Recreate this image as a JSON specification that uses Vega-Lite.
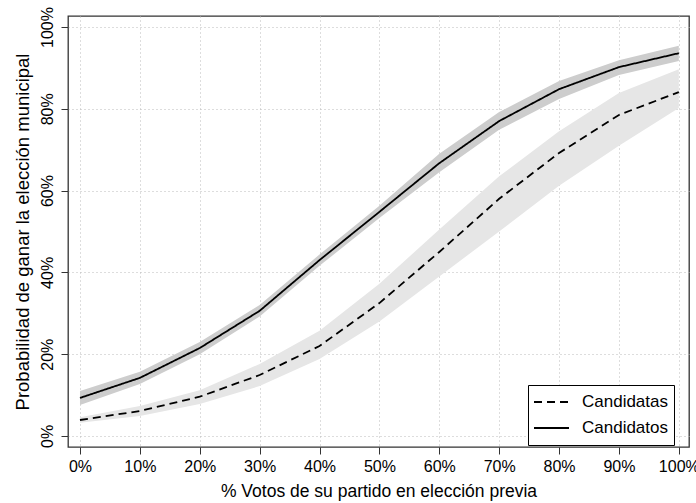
{
  "$schema": "https://vega.github.io/schema/vega-lite/v6.json",
  "autosize": "none",
  "width": 621,
  "height": 431,
  "padding": {"left": 68, "top": 16, "right": 7, "bottom": 56},
  "background": "white",
  "title": {"text": "(2000-2018)", "fontSize": 25, "font": "Liberation Sans", "fontWeight": "normal", "baseline": "alphabetic", "offset": 12, "dx": 12, "color": "#000"},
  "config": {
    "font": "Liberation Sans",
    "view": {"stroke": "#333", "strokeWidth": 1.3},
    "axis": {
      "domain": false,
      "gridColor": "#bbbbbb",
      "gridDash": [1, 3],
      "gridWidth": 1,
      "tickColor": "#333",
      "tickSize": 7,
      "labelFont": "Liberation Sans",
      "labelFontSize": 16,
      "labelColor": "#000",
      "titleFont": "Liberation Sans",
      "titleFontSize": 17.5,
      "titleFontWeight": "normal",
      "titleColor": "#000"
    }
  },
  "data": {
    "values": [
      {"x": 0.0, "group": "Candidatas", "est": 0.039, "lo": 0.032, "hi": 0.046},
      {"x": 0.1, "group": "Candidatas", "est": 0.061, "lo": 0.049, "hi": 0.073},
      {"x": 0.2, "group": "Candidatas", "est": 0.096, "lo": 0.078, "hi": 0.112},
      {"x": 0.3, "group": "Candidatas", "est": 0.149, "lo": 0.122, "hi": 0.176},
      {"x": 0.4, "group": "Candidatas", "est": 0.22, "lo": 0.188, "hi": 0.257},
      {"x": 0.5, "group": "Candidatas", "est": 0.325, "lo": 0.28, "hi": 0.372},
      {"x": 0.6, "group": "Candidatas", "est": 0.45, "lo": 0.39, "hi": 0.505},
      {"x": 0.7, "group": "Candidatas", "est": 0.58, "lo": 0.5, "hi": 0.635},
      {"x": 0.8, "group": "Candidatas", "est": 0.692, "lo": 0.612, "hi": 0.745},
      {"x": 0.9, "group": "Candidatas", "est": 0.785, "lo": 0.71, "hi": 0.839},
      {"x": 1.0, "group": "Candidatas", "est": 0.841, "lo": 0.802, "hi": 0.897},
      {"x": 0.0, "group": "Candidatos", "est": 0.093, "lo": 0.076, "hi": 0.11},
      {"x": 0.1, "group": "Candidatos", "est": 0.142, "lo": 0.127, "hi": 0.157},
      {"x": 0.2, "group": "Candidatos", "est": 0.215, "lo": 0.2, "hi": 0.23},
      {"x": 0.3, "group": "Candidatos", "est": 0.306, "lo": 0.292, "hi": 0.32},
      {"x": 0.4, "group": "Candidatos", "est": 0.43, "lo": 0.416, "hi": 0.444},
      {"x": 0.5, "group": "Candidatos", "est": 0.548, "lo": 0.533, "hi": 0.563},
      {"x": 0.6, "group": "Candidatos", "est": 0.667, "lo": 0.645, "hi": 0.69},
      {"x": 0.7, "group": "Candidatos", "est": 0.77, "lo": 0.749, "hi": 0.792},
      {"x": 0.8, "group": "Candidatos", "est": 0.848, "lo": 0.824, "hi": 0.868},
      {"x": 0.9, "group": "Candidatos", "est": 0.902, "lo": 0.883, "hi": 0.919},
      {"x": 1.0, "group": "Candidatos", "est": 0.936, "lo": 0.917, "hi": 0.954}
    ]
  },
  "encoding": {
    "x": {
      "field": "x",
      "type": "quantitative",
      "scale": {"domain": [-0.02, 1.017], "nice": false, "zero": false},
      "axis": {"values": [0, 0.1, 0.2, 0.3, 0.4, 0.5, 0.6, 0.7, 0.8, 0.9, 1], "format": ".0%", "labelPadding": 4, "titlePadding": 8, "title": "% Votos de su partido en elección previa"}
    },
    "y": {
      "field": "lo",
      "type": "quantitative",
      "scale": {"domain": [-0.027, 1.027], "nice": false, "zero": false},
      "axis": {"values": [0, 0.2, 0.4, 0.6, 0.8, 1], "format": ".0%", "labelAngle": -90, "labelAlign": "center", "labelBaseline": "bottom", "labelPadding": 6, "titlePadding": 7, "titleFontSize": 18.5, "title": "Probabilidad de ganar la elección municipal"}
    }
  },
  "layer": [
    {
      "transform": [{"filter": "datum.group === 'Candidatas'"}],
      "mark": {"type": "area", "fill": "#e6e6e6", "opacity": 1},
      "encoding": {"y2": {"field": "hi"}}
    },
    {
      "transform": [{"filter": "datum.group === 'Candidatos'"}],
      "mark": {"type": "area", "fill": "#cdcdcd", "opacity": 1},
      "encoding": {"y2": {"field": "hi"}}
    },
    {
      "mark": {"type": "line", "color": "#000", "strokeWidth": 1.8},
      "encoding": {
        "y": {"field": "est", "type": "quantitative"},
        "strokeDash": {
          "field": "group",
          "type": "nominal",
          "title": null,
          "scale": {"domain": ["Candidatas", "Candidatos"], "range": [[8, 5], [1, 0]]},
          "legend": {
            "orient": "none",
            "legendX": 460,
            "legendY": 369,
            "fillColor": "white",
            "strokeColor": "#000",
            "padding": 5,
            "symbolType": "stroke",
            "symbolSize": 1225,
            "symbolStrokeWidth": 1.8,
            "symbolStrokeColor": "#000",
            "labelFont": "Liberation Sans",
            "labelFontSize": 17,
            "labelColor": "#000",
            "labelOffset": 12,
            "clipHeight": 24,
            "rowPadding": 2
          }
        }
      }
    }
  ]
}
